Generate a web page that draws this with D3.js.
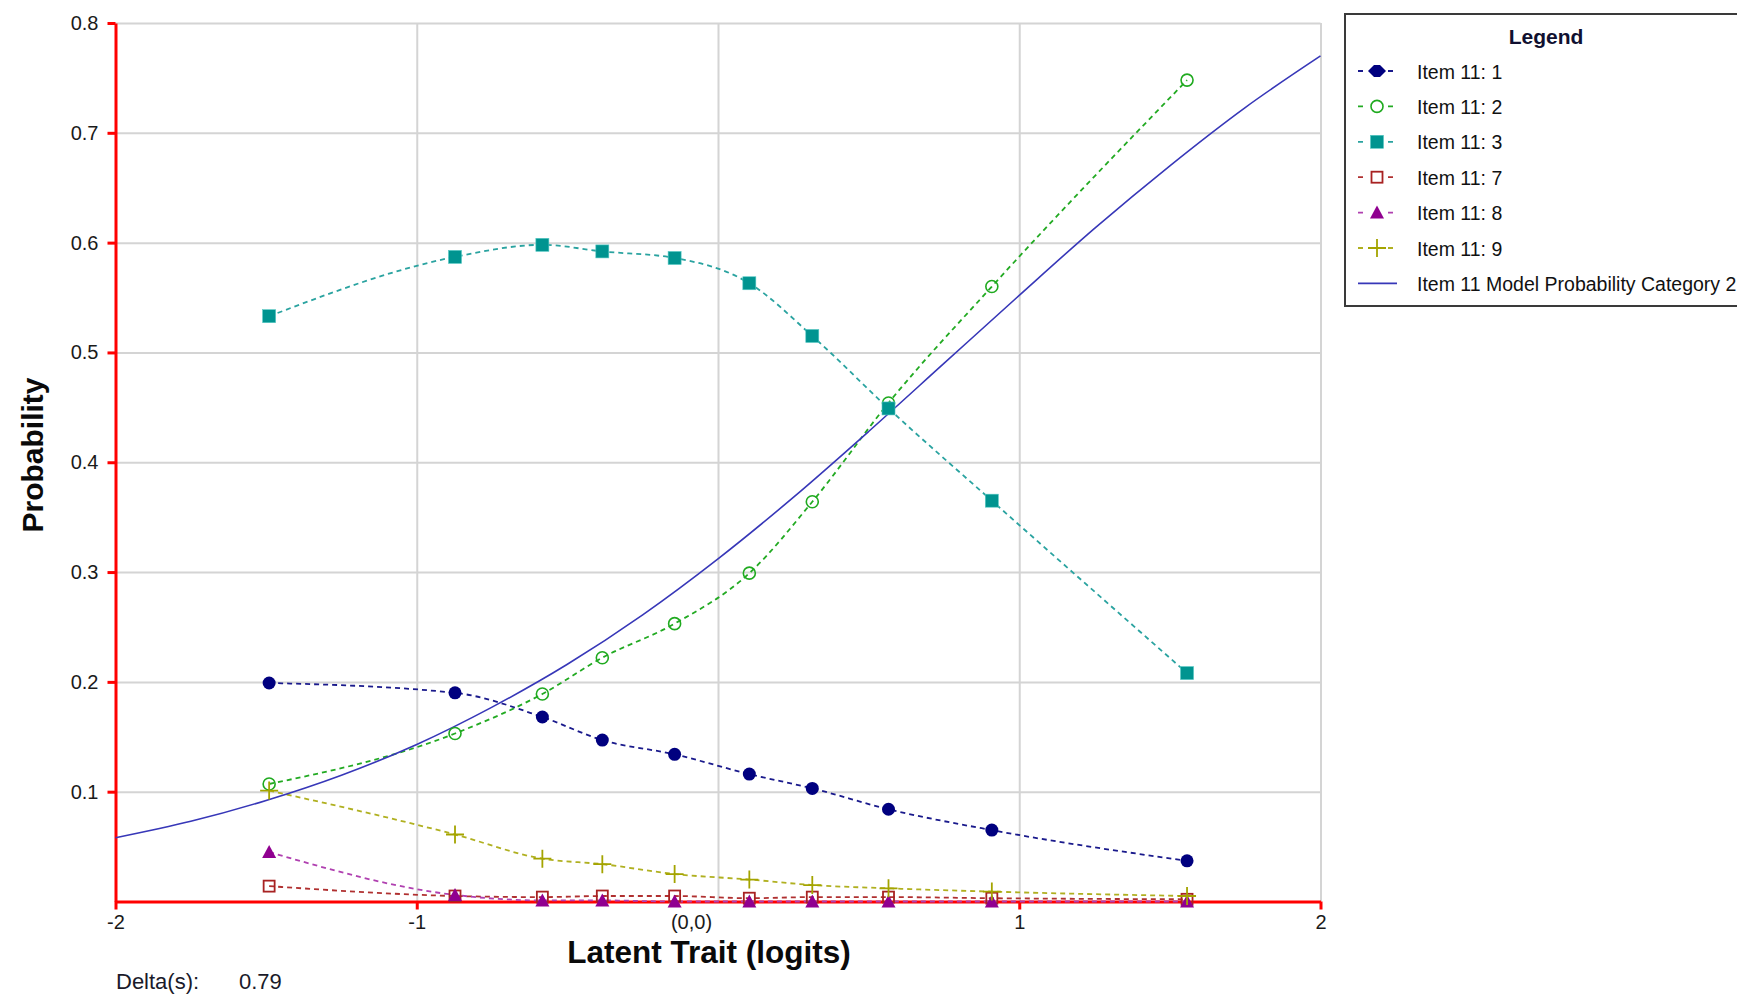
<!DOCTYPE html>
<html>
<head>
<meta charset="utf-8">
<script src="https://cdn.jsdelivr.net/npm/d3@7"></script>
<style>
  html, body { margin: 0; padding: 0; background: #fff; }
  svg { display: block; font-family: "Liberation Sans", Arial, sans-serif; }
</style>
</head>
<body>
<svg id="chart" width="1737" height="996"></svg>
<script>
// ---------------- data ----------------
const xValues = [-1.49, -0.873, -0.583, -0.384, -0.144, 0.104, 0.313, 0.566, 0.909, 1.557];
const item1 = [0.199, 0.190, 0.168, 0.147, 0.134, 0.116, 0.103, 0.084, 0.065, 0.037];
const item2 = [0.107, 0.153, 0.189, 0.222, 0.253, 0.299, 0.364, 0.454, 0.560, 0.748];
const item3 = [0.533, 0.587, 0.598, 0.592, 0.586, 0.563, 0.515, 0.449, 0.365, 0.208];
const item7 = [0.014, 0.005, 0.004, 0.005, 0.005, 0.003, 0.004, 0.004, 0.003, 0.002];
const item8 = [0.045, 0.006, 0.001, 0.001, 0.000, 0.000, 0.000, 0.000, 0.000, 0.000];
const item9 = [0.101, 0.061, 0.039, 0.034, 0.025, 0.020, 0.015, 0.012, 0.009, 0.005];
const modelX = [-2, -1.75, -1.5, -1.25, -1, -0.75, -0.5, -0.25, 0, 0.25, 0.5, 0.75, 1, 1.25, 1.5, 1.75, 2];
const modelY = [0.058, 0.073, 0.092, 0.115, 0.143, 0.177, 0.216, 0.261, 0.312, 0.368, 0.428, 0.490, 0.552, 0.613, 0.670, 0.723, 0.770];
const seriesNames = ["Item 11: 1", "Item 11: 2", "Item 11: 3", "Item 11: 7", "Item 11: 8", "Item 11: 9"];
const modelName = "Item 11 Model Probability Category 2";
const xTicks = [-2, -1, 0, 1, 2];
const xTickLabels = ["-2", "-1", "(0,0)", "1", "2"];
const yTicks = [0.1, 0.2, 0.3, 0.4, 0.5, 0.6, 0.7, 0.8];
const yTickLabels = ["0.1", "0.2", "0.3", "0.4", "0.5", "0.6", "0.7", "0.8"];
const xTitle = "Latent Trait (logits)";
const yTitle = "Probability";
const legendTitle = "Legend";
const deltaLabel = "Delta(s):";
const deltaValue = "0.79";

// ---------------- styles ----------------
const styles = [
  { values: item1, marker: "dot",      color: "#00007f", line: "#1a1a8c" },
  { values: item2, marker: "ocircle",  color: "#1faa1f", line: "#22aa22" },
  { values: item3, marker: "square",   color: "#009490", line: "#2aa3a0" },
  { values: item7, marker: "osquare",  color: "#a82222", line: "#b03030" },
  { values: item8, marker: "triangle", color: "#900090", line: "#b040b0" },
  { values: item9, marker: "plus",     color: "#a4a400", line: "#b0b020" }
];
const modelColor = "#3737b8";

const svg = d3.select("#chart");
const L = 115.5, R = 1320.5, T = 23, B = 901.5;
const x = d3.scaleLinear().domain([-2, 2]).range([L, R]);
const y = d3.scaleLinear().domain([0, 0.8]).range([B, T]);

// grid
const gridG = svg.append("g");
gridG.append("g")
  .attr("transform", `translate(${L},0)`)
  .call(d3.axisLeft(y).tickValues(yTicks).tickSize(-(R - L)).tickFormat(""))
  .call(g => g.select(".domain").remove())
  .call(g => g.selectAll("line").attr("stroke", "#d4d4d4").attr("stroke-width", 2));
gridG.append("g")
  .attr("transform", `translate(0,${B})`)
  .call(d3.axisBottom(x).tickValues([-1, 0, 1, 2]).tickSize(-(B - T)).tickFormat(""))
  .call(g => g.select(".domain").remove())
  .call(g => g.selectAll("line").attr("stroke", "#d4d4d4").attr("stroke-width", 2));

// axes
const yAxisG = svg.append("g")
  .attr("transform", `translate(${L},0)`)
  .call(d3.axisLeft(y).tickValues(yTicks).tickSize(8).tickSizeOuter(0).tickPadding(9)
    .tickFormat((d, i) => yTickLabels[i]));
yAxisG.select(".domain").attr("stroke", "#ff0000").attr("stroke-width", 3);
yAxisG.selectAll(".tick line").attr("stroke", "#ff0000").attr("stroke-width", 3);
yAxisG.selectAll(".tick text").attr("fill", "#1a1a1a").style("font-size", "20px")
  .style("font-family", "'Liberation Sans', Arial, sans-serif");

const xAxisG = svg.append("g")
  .attr("transform", `translate(0,${B})`)
  .call(d3.axisBottom(x).tickValues(xTicks).tickSize(8).tickSizeOuter(0).tickPadding(5)
    .tickFormat((d, i) => xTickLabels[i]));
xAxisG.select(".domain").attr("stroke", "#ff0000").attr("stroke-width", 3);
xAxisG.selectAll(".tick line").attr("stroke", "#ff0000").attr("stroke-width", 3)
  .attr("opacity", d => d === 0 ? 0 : 1);
xAxisG.selectAll(".tick text").attr("fill", "#1a1a1a").style("font-size", "20px")
  .style("font-family", "'Liberation Sans', Arial, sans-serif")
  .attr("x", d => d === 0 ? -27 : 0);

// titles
svg.append("text").attr("x", 709).attr("y", 963).attr("text-anchor", "middle")
  .attr("font-weight", "bold").attr("font-size", 31.5).attr("fill", "#0a0a0a").text(xTitle);
svg.append("text").attr("transform", "translate(43,455) rotate(-90)").attr("text-anchor", "middle")
  .attr("font-weight", "bold").attr("font-size", 30).attr("fill", "#0a0a0a").text(yTitle);
svg.append("text").attr("x", 116).attr("y", 989).attr("font-size", 22).attr("fill", "#1a1a2a").text(deltaLabel);
svg.append("text").attr("x", 239).attr("y", 989).attr("font-size", 22).attr("fill", "#1a1a2a").text(deltaValue);

// marker drawing
function drawMarker(g, type, color, cx, cy, legend) {
  if (type === "dot") {
    if (legend) {
      g.append("path").attr("d", `M${cx - 9},${cy} L${cx - 3},${cy - 6} L${cx + 3},${cy - 6} L${cx + 9},${cy} L${cx + 3},${cy + 6} L${cx - 3},${cy + 6} Z`)
        .attr("fill", color);
    } else {
      g.append("circle").attr("cx", cx).attr("cy", cy).attr("r", 6.5).attr("fill", color);
    }
  } else if (type === "ocircle") {
    g.append("circle").attr("cx", cx).attr("cy", cy).attr("r", 6)
      .attr("fill", "none").attr("stroke", color).attr("stroke-width", 1.6);
  } else if (type === "square") {
    g.append("rect").attr("x", cx - 6.5).attr("y", cy - 6.5).attr("width", 13).attr("height", 13)
      .attr("fill", color).attr("stroke", "#55c8c4").attr("stroke-width", 0.6);
  } else if (type === "osquare") {
    g.append("rect").attr("x", cx - 5.5).attr("y", cy - 5.5).attr("width", 11).attr("height", 11)
      .attr("fill", "none").attr("stroke", color).attr("stroke-width", 1.8);
  } else if (type === "triangle") {
    g.append("path").attr("d", `M${cx},${cy - 7} L${cx + 7},${cy + 6} L${cx - 7},${cy + 6} Z`)
      .attr("fill", color);
  } else if (type === "plus") {
    g.append("path").attr("d", `M${cx - 9},${cy} L${cx + 9},${cy} M${cx},${cy - 9} L${cx},${cy + 9}`)
      .attr("stroke", color).attr("stroke-width", 1.8).attr("fill", "none");
  }
}

// series lines
const lineGen = d3.line().x(d => x(d[0])).y(d => y(d[1])).curve(d3.curveMonotoneX);
const linesG = svg.append("g");
styles.forEach(s => {
  const pts = xValues.map((v, i) => [v, s.values[i]]);
  linesG.append("path").attr("d", lineGen(pts)).attr("fill", "none")
    .attr("stroke", s.line).attr("stroke-width", 1.8).attr("stroke-dasharray", "5,4");
});

// model curve
const modelPts = modelX.map((v, i) => [v, modelY[i]]);
svg.append("path").attr("d", lineGen(modelPts)).attr("fill", "none")
  .attr("stroke", modelColor).attr("stroke-width", 1.6);

// markers
const markersG = svg.append("g");
styles.forEach(s => {
  xValues.forEach((v, i) => drawMarker(markersG, s.marker, s.color, x(v), y(s.values[i]), false));
});

// legend
const lg = svg.append("g");
lg.append("rect").attr("x", 1345).attr("y", 14).attr("width", 600).attr("height", 292)
  .attr("fill", "#fff").attr("stroke", "#3a3a3a").attr("stroke-width", 2);
lg.append("text").attr("x", 1546).attr("y", 44).attr("text-anchor", "middle")
  .attr("font-weight", "bold").attr("font-size", 21).attr("fill", "#101030").text(legendTitle);
const rowY0 = 71, rowStep = 35.4;
styles.forEach((s, i) => {
  const cy = rowY0 + i * rowStep;
  lg.append("line").attr("x1", 1358).attr("x2", 1397).attr("y1", cy).attr("y2", cy)
    .attr("stroke", s.line).attr("stroke-width", 1.8).attr("stroke-dasharray", "5,5");
  lg.append("rect").attr("x", 1368).attr("y", cy - 8).attr("width", 18).attr("height", 16).attr("fill", "#fff");
  drawMarker(lg, s.marker, s.color, 1377, cy, true);
  lg.append("text").attr("x", 1417).attr("y", cy + 7.5).attr("font-size", 19.5).attr("fill", "#111")
    .text(seriesNames[i]);
});
{
  const cy = rowY0 + 6 * rowStep;
  lg.append("line").attr("x1", 1358).attr("x2", 1397).attr("y1", cy).attr("y2", cy)
    .attr("stroke", modelColor).attr("stroke-width", 1.8);
  lg.append("text").attr("x", 1417).attr("y", cy + 7.5).attr("font-size", 19.5).attr("fill", "#111")
    .text(modelName);
}
</script>
</body>
</html>
